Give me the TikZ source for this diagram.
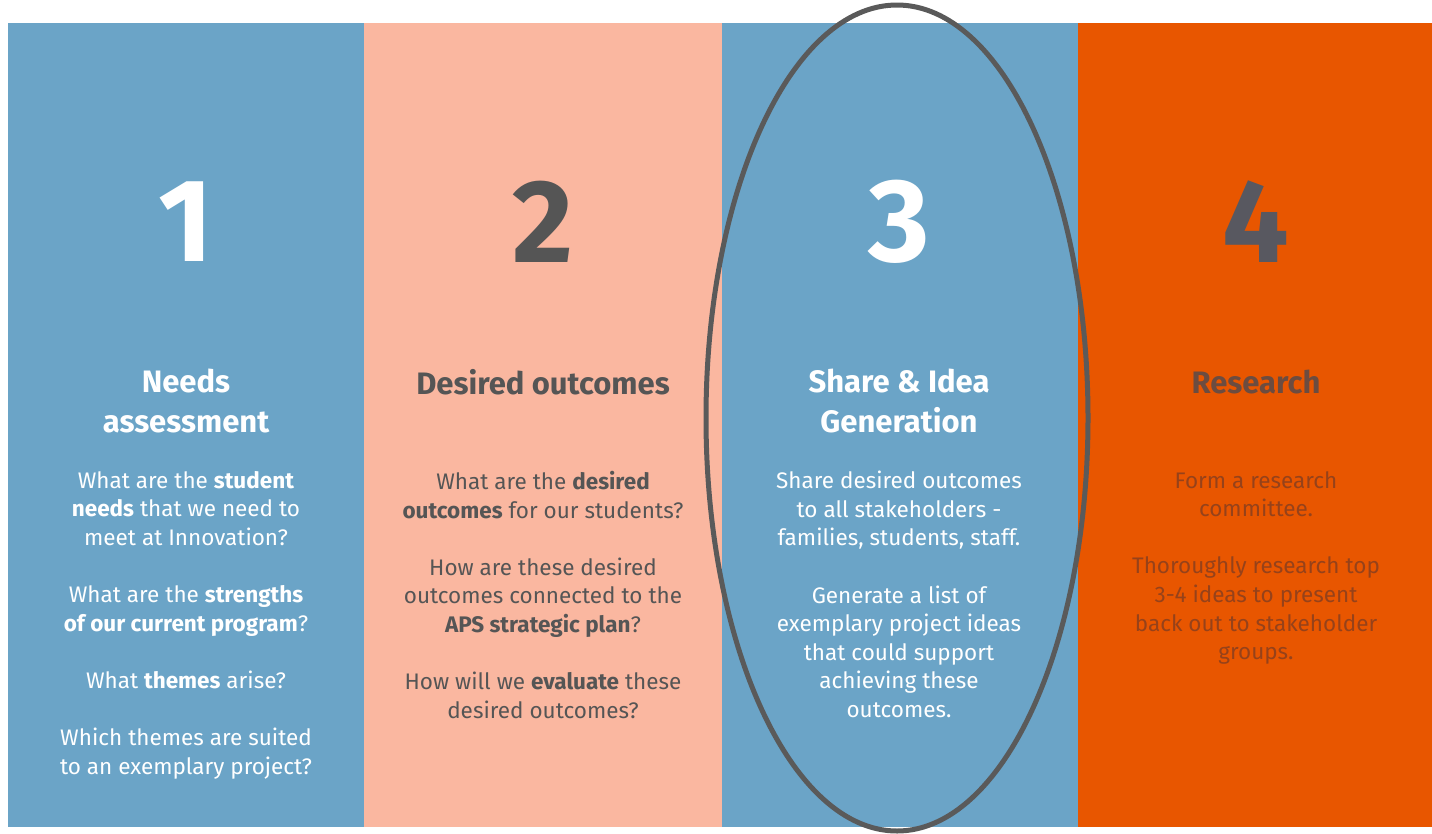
\documentclass[tikz,border=0pt]{standalone}
\usepackage{fontspec}
\setmainfont{Fira Sans}
\definecolor{colblue}{RGB}{107,164,199}
\definecolor{colpink}{RGB}{250,183,160}
\definecolor{colorange}{RGB}{232,86,0}
\definecolor{txtgray}{RGB}{85,85,85}
\definecolor{numgray}{RGB}{88,88,96}
\definecolor{headbrown}{RGB}{108,76,64}
\definecolor{txtbrown}{RGB}{150,66,26}
\definecolor{ringgray}{RGB}{90,90,90}

\begin{document}
\begin{tikzpicture}[x=1pt,y=-1pt]
\tikzstyle{num}=[inner sep=0,font=\fontsize{118}{118}\selectfont\bfseries]
\tikzstyle{head}=[inner sep=0,align=center,font=\fontsize{31}{40}\selectfont\bfseries]
\tikzstyle{body}=[inner sep=0,anchor=north,align=center,font=\fontsize{22.5}{28.6}\selectfont]
\useasboundingbox (0,0) rectangle (1432,833);
\fill[colblue] (8,23) rectangle (364,827);
\fill[colpink] (364,23) rectangle (722,827);
\fill[colblue] (722,23) rectangle (1078,827);
\fill[colorange] (1078,23) rectangle (1432,827);

\node[num,text=white] (n1) at (186,222) {1};
\node[num,text=txtgray] (n2) at (543,222) {2};
\node[num,text=white] (n3) at (899,222) {3};
\node[num,text=numgray] (n4) at (1256,222) {4};

\node[head,text=white] (h1) at (186,401) {Needs\\assessment};
\node[head,text=txtgray] (h2) at (543,382) {Desired outcomes};
\node[head,text=white] (h3) at (899,401) {Share \& Idea\\Generation};
\node[head,text=headbrown] (h4) at (1256,382) {Research};

\node[body,text=white] (b1) at (186,471) {What are the \textbf{student}\\\textbf{needs} that we need to\\meet at Innovation?\\[28.6pt]
What are the \textbf{strengths}\\\textbf{of our current program}?\\[28.6pt]
What \textbf{themes} arise?\\[28.6pt]
Which themes are suited\\to an exemplary project?};
\node[body,text=txtgray] (b2) at (543,471) {What are the \textbf{desired}\\\textbf{outcomes} for our students?\\[28.6pt]
How are these desired\\outcomes connected to the\\\textbf{APS strategic plan}?\\[28.6pt]
How will we \textbf{evaluate} these\\desired outcomes?};
\node[body,text=white] (b3) at (899,471) {Share desired outcomes\\to all stakeholders -\\families, students, staff.\\[28.6pt]
Generate a list of\\exemplary project ideas\\that could support\\achieving these\\outcomes.};
\node[body,text=txtbrown] (b4) at (1256,471) {Form a research\\committee.\\[28.6pt]
Thoroughly research top\\3-4 ideas to present\\back out to stakeholder\\groups.};

\draw[ringgray,line width=5] (897,418) ellipse [x radius=191,y radius=413];
\end{tikzpicture}
\end{document}
